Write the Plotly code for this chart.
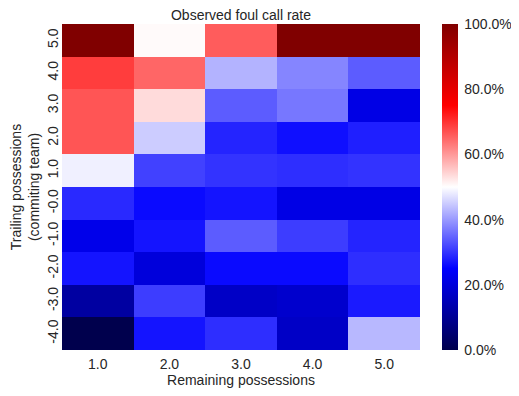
import plotly.graph_objects as go

title = "Observed foul call rate"
x_labels = ["1.0", "2.0", "3.0", "4.0", "5.0"]
y_labels = ["5.0", "4.0", "3.0", "2.0", "1.0", "-0.0", "-1.0", "-2.0", "-3.0", "-4.0"]

row_5 = [1.00, 0.505, 0.66, 1.00, 1.00]
row_4 = [0.69, 0.65, 0.425, 0.38, 0.34]
row_3 = [0.667, 0.535, 0.34, 0.367, 0.214]
row_2 = [0.667, 0.45, 0.285, 0.265, 0.28]
row_1 = [0.485, 0.314, 0.30, 0.295, 0.30]
row_0 = [0.29, 0.26, 0.27, 0.214, 0.214]
row_m1 = [0.22, 0.27, 0.34, 0.31, 0.285]
row_m2 = [0.27, 0.20, 0.26, 0.26, 0.295]
row_m3 = [0.118, 0.31, 0.17, 0.18, 0.275]
row_m4 = [0.0, 0.27, 0.295, 0.17, 0.43]

z = [row_5, row_4, row_3, row_2, row_1, row_0, row_m1, row_m2, row_m3, row_m4]

cb_vals = [0.0, 0.2, 0.4, 0.6, 0.8, 1.0]

seismic = [
    [0.0, "rgb(0,0,77)"],
    [0.25, "rgb(0,0,255)"],
    [0.5, "rgb(255,255,255)"],
    [0.75, "rgb(255,0,0)"],
    [1.0, "rgb(128,0,0)"],
]

font = dict(family="Liberation Sans, Arial, sans-serif", size=14, color="#262626")

# the page body keeps its default 8px margin, so the figure is sized to fit inside it
fig = go.Figure(
    go.Heatmap(
        z=z,
        x=x_labels,
        y=y_labels,
        zmin=0,
        zmax=1,
        colorscale=seismic,
        colorbar=dict(
            x=1.061,
            xanchor="left",
            y=0.5,
            yanchor="middle",
            len=1,
            lenmode="fraction",
            thickness=16,
            outlinewidth=0,
            xpad=0,
            ypad=0,
            tickvals=cb_vals,
            tickformat=".1%",
            ticks="outside",
            ticklen=4,
            tickcolor="rgba(0,0,0,0)",
            tickfont=font,
        ),
    )
)

fig.update_layout(
    width=503,
    height=380,
    margin=dict(l=54, r=91, t=16, b=38, autoexpand=False),
    paper_bgcolor="white",
    plot_bgcolor="white",
    font=font,
    title=dict(text=title, x=0.5, xref="paper", xanchor="center", y=0.982, yanchor="middle",
               font=dict(family=font["family"], size=14, color="#262626")),
    xaxis=dict(
        type="category",
        title=dict(text="Remaining possessions", font=font, standoff=4),
        ticks="",
        ticklabelstandoff=4,
        showgrid=False,
        zeroline=False,
        showline=False,
        tickfont=font,
    ),
    yaxis=dict(
        type="category",
        autorange="reversed",
        title=dict(text="Trailing possessions<br>(commiting team)", font=font, standoff=4),
        ticks="",
        tickangle=-90,
        showgrid=False,
        zeroline=False,
        showline=False,
        tickfont=font,
    ),
)

fig.write_html("out.html")
